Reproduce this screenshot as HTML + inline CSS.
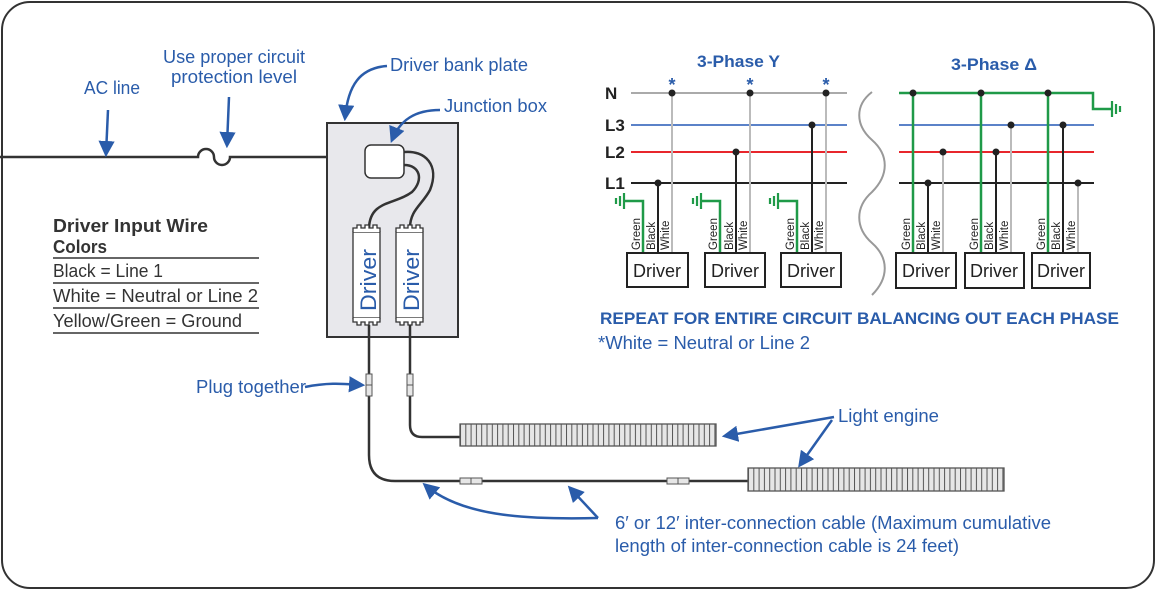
<!DOCTYPE html>
<html><head><meta charset="utf-8"><style>
html,body{margin:0;padding:0;background:#fff;}
svg{display:block;font-family:"Liberation Sans",sans-serif;}
.b{fill:#2a5caa;}
</style></head><body>
<svg width="1157" height="594" viewBox="0 0 1157 594" xmlns="http://www.w3.org/2000/svg">
<defs>
<marker id="ah" viewBox="0 0 10 10" refX="8" refY="5" markerWidth="6.5" markerHeight="6.5" orient="auto-start-reverse"><path d="M0,0 L10,5 L0,10 z" fill="#2a5caa"/></marker>
<pattern id="st" x="460" y="0" width="5.3" height="10" patternUnits="userSpaceOnUse"><rect width="5.3" height="10" fill="#e6e6e6"/><line x1="0.5" y1="0" x2="0.5" y2="10" stroke="#555" stroke-width="1"/></pattern>
<pattern id="st2" x="748" y="0" width="5.3" height="10" patternUnits="userSpaceOnUse"><rect width="5.3" height="10" fill="#e6e6e6"/><line x1="0.5" y1="0" x2="0.5" y2="10" stroke="#555" stroke-width="1"/></pattern>
</defs>
<rect x="2" y="2" width="1152" height="586" rx="28" fill="#fff" stroke="#333" stroke-width="2"/>

<path d="M0,157 H198 A8,8 0 0 1 214,157 A8,8 0 0 0 230,157 H365" fill="none" stroke="#333" stroke-width="2.5"/>
<rect x="327" y="123" width="131" height="214" fill="#e8e8ec" stroke="#333" stroke-width="2"/>
<rect x="365" y="145" width="39" height="33" rx="6" fill="#fff" stroke="#333" stroke-width="1.5"/>
<path d="M404,165 C420,165 424,180 412,192 C395,205 370,200 369,228" fill="none" stroke="#333" stroke-width="2.5"/>
<path d="M404,152 C425,150 440,165 430,190 C422,205 410,210 410,228" fill="none" stroke="#333" stroke-width="2.5"/>
<g fill="#fff" stroke="#333" stroke-width="1.3">
<rect x="353" y="232" width="27" height="86"/><rect x="396" y="232" width="27" height="86"/>
<path d="M353,232 v-4 h4 v-3 h4 v3 h4 v-3 h4 v3 h4 v-3 h4 v3 h3 v4" fill="#fff"/>
<path d="M396,232 v-4 h4 v-3 h4 v3 h4 v-3 h4 v3 h4 v-3 h4 v3 h3 v4" fill="#fff"/>
<path d="M353,318 v4 h4 v3 h4 v-3 h4 v3 h4 v-3 h4 v3 h4 v-3 h3 v-4" fill="#fff"/>
<path d="M396,318 v4 h4 v3 h4 v-3 h4 v3 h4 v-3 h4 v3 h4 v-3 h3 v-4" fill="#fff"/>
</g>
<text transform="translate(376,311) rotate(-90)" class="b" font-size="22" textLength="62" lengthAdjust="spacingAndGlyphs">Driver</text>
<text transform="translate(419,311) rotate(-90)" class="b" font-size="22" textLength="62" lengthAdjust="spacingAndGlyphs">Driver</text>

<path d="M369,325 V455 Q369,481 395,481 H748" fill="none" stroke="#333" stroke-width="2.5"/>
<path d="M410,325 V425 Q410,437 422,437 H460" fill="none" stroke="#333" stroke-width="2.5"/>
<g fill="#e6e6e6" stroke="#555" stroke-width="1">
<rect x="366" y="374" width="6" height="22"/><line x1="366" y1="385" x2="372" y2="385"/>
<rect x="407" y="374" width="6" height="22"/><line x1="407" y1="385" x2="413" y2="385"/>
<rect x="460" y="478" width="22" height="6"/><line x1="471" y1="478" x2="471" y2="484"/>
<rect x="667" y="478" width="22" height="6"/><line x1="678" y1="478" x2="678" y2="484"/>
</g>
<rect x="460" y="424" width="256" height="22" fill="url(#st)" stroke="#555" stroke-width="1.3"/>
<rect x="748" y="468" width="256" height="23" fill="url(#st2)" stroke="#555" stroke-width="1.3"/>

<g fill="none" stroke="#2a5caa" stroke-width="2.5" marker-end="url(#ah)">
<path d="M108,110 L106,154"/>
<path d="M229,97 L227,145"/>
<path d="M387,66 C360,68 348,85 345,118"/>
<path d="M440,110 C415,110 400,120 392,140"/>
<path d="M305,387 C330,382 345,384 362,385"/>
<path d="M834,417 L725,436"/>
<path d="M832,420 L800,465"/>
<path d="M598,518 C520,520 460,515 425,485"/>
<path d="M598,518 L570,488"/>
</g>

<g class="b" font-size="18" lengthAdjust="spacingAndGlyphs">
<text x="84" y="94" textLength="56" lengthAdjust="spacingAndGlyphs">AC line</text>
<text x="163" y="63" textLength="142" lengthAdjust="spacingAndGlyphs">Use proper circuit</text>
<text x="171" y="83" textLength="126" lengthAdjust="spacingAndGlyphs">protection level</text>
<text x="390" y="71" textLength="138" lengthAdjust="spacingAndGlyphs">Driver bank plate</text>
<text x="444" y="112" textLength="103" lengthAdjust="spacingAndGlyphs">Junction box</text>
<text x="196" y="393" textLength="110" lengthAdjust="spacingAndGlyphs">Plug together</text>
<text x="838" y="422" textLength="101" lengthAdjust="spacingAndGlyphs">Light engine</text>
<text x="615" y="529" textLength="436" lengthAdjust="spacingAndGlyphs">6′ or 12′ inter-connection cable (Maximum cumulative</text>
<text x="615" y="552" textLength="344" lengthAdjust="spacingAndGlyphs">length of inter-connection cable is 24 feet)</text>
</g>
<g fill="#333" font-size="18">
<text x="53" y="232" font-weight="bold" textLength="155" lengthAdjust="spacingAndGlyphs">Driver Input  Wire</text>
<text x="53" y="253" font-weight="bold" textLength="54" lengthAdjust="spacingAndGlyphs">Colors</text>
<text x="53" y="277" textLength="110" lengthAdjust="spacingAndGlyphs">Black = Line 1</text>
<text x="53" y="302" textLength="205" lengthAdjust="spacingAndGlyphs">White = Neutral or Line 2</text>
<text x="53" y="327" textLength="189" lengthAdjust="spacingAndGlyphs">Yellow/Green = Ground</text>
</g>
<g stroke="#333" stroke-width="1.5">
<line x1="53" y1="258" x2="259" y2="258"/><line x1="53" y1="283" x2="259" y2="283"/>
<line x1="53" y1="308" x2="259" y2="308"/><line x1="53" y1="333" x2="259" y2="333"/>
</g>

<text x="697" y="67" class="b" font-size="17" font-weight="bold" textLength="83" lengthAdjust="spacingAndGlyphs">3-Phase Y</text>
<g font-size="17" font-weight="bold" fill="#222">
<text x="605" y="99">N</text><text x="605" y="131">L3</text><text x="605" y="158">L2</text><text x="605" y="189">L1</text>
</g>
<g class="b" font-size="18" font-weight="bold" text-anchor="middle">
<text x="672" y="91">*</text><text x="750" y="91">*</text><text x="826" y="91">*</text>
</g>
<line x1="631" y1="93" x2="847" y2="93" stroke="#aaa" stroke-width="2"/>
<line x1="631" y1="125" x2="847" y2="125" stroke="#5b82c8" stroke-width="2"/>
<line x1="631" y1="152" x2="847" y2="152" stroke="#e8262c" stroke-width="2"/>
<line x1="631" y1="183" x2="847" y2="183" stroke="#222" stroke-width="2"/>
<g stroke-width="2" fill="none">
<path d="M672,93 V253 M750,93 V253 M826,93 V253" stroke="#bbb"/>
<path d="M658,183 V253 M736,152 V253 M812,125 V253" stroke="#222"/>
<path d="M643,253 V201 H624 M720,253 V201 H701 M797,253 V201 H778" stroke="#1f9a48" stroke-width="2.5"/>
<path d="M624,193 V209 M620,196 V206 M616,198 V204 M701,193 V209 M697,196 V206 M693,198 V204 M778,193 V209 M774,196 V206 M770,198 V204" stroke="#1f9a48" stroke-width="2.2"/>
</g>
<g fill="#222">
<circle cx="672" cy="93" r="3.5"/><circle cx="750" cy="93" r="3.5"/><circle cx="826" cy="93" r="3.5"/>
<circle cx="658" cy="183" r="3.5"/><circle cx="736" cy="152" r="3.5"/><circle cx="812" cy="125" r="3.5"/>
</g>

<path d="M872,92 C855,105 855,125 872,140 C889,155 889,175 872,192 C855,207 855,228 872,243 C889,258 889,278 872,295" fill="none" stroke="#999" stroke-width="2"/>

<text x="951" y="70" class="b" font-size="17" font-weight="bold" textLength="86" lengthAdjust="spacingAndGlyphs">3-Phase Δ</text>
<path d="M899,93 H1093 V109 H1111" stroke="#1f9a48" stroke-width="2.5" fill="none"/>
<path d="M1112,101 V117 M1116,104 V114 M1120,106 V112" stroke="#1f9a48" stroke-width="2.2"/>
<line x1="899" y1="125" x2="1094" y2="125" stroke="#5b82c8" stroke-width="2"/>
<line x1="899" y1="152" x2="1094" y2="152" stroke="#e8262c" stroke-width="2"/>
<line x1="899" y1="183" x2="1094" y2="183" stroke="#222" stroke-width="2"/>
<g stroke-width="2" fill="none">
<path d="M913,93 V253 M981,93 V253 M1048,93 V253" stroke="#1f9a48" stroke-width="2.5"/>
<path d="M928,183 V253 M996,152 V253 M1063,125 V253" stroke="#222"/>
<path d="M943,152 V253 M1011,125 V253 M1078,183 V253" stroke="#bbb"/>
</g>
<g fill="#222">
<circle cx="913" cy="93" r="3.5"/><circle cx="981" cy="93" r="3.5"/><circle cx="1048" cy="93" r="3.5"/>
<circle cx="928" cy="183" r="3.5"/><circle cx="996" cy="152" r="3.5"/><circle cx="1063" cy="125" r="3.5"/>
<circle cx="943" cy="152" r="3.5"/><circle cx="1011" cy="125" r="3.5"/><circle cx="1078" cy="183" r="3.5"/>
</g>

<g fill="#fff" stroke="#222" stroke-width="2">
<rect x="627" y="253" width="61" height="34"/><rect x="705" y="253" width="60" height="34"/><rect x="781" y="253" width="60" height="34"/>
<rect x="896" y="253" width="60" height="35"/><rect x="965" y="253" width="59" height="35"/><rect x="1032" y="253" width="58" height="35"/>
</g>
<g font-size="18" fill="#222" text-anchor="middle">
<text x="657" y="277">Driver</text><text x="735" y="277">Driver</text><text x="811" y="277">Driver</text>
<text x="926" y="277">Driver</text><text x="994" y="277">Driver</text><text x="1061" y="277">Driver</text>
</g>
<g font-size="11.5" fill="#222">
<text transform="translate(640,250) rotate(-90)">Green</text><text transform="translate(655,250) rotate(-90)">Black</text><text transform="translate(669,250) rotate(-90)">White</text>
<text transform="translate(717,250) rotate(-90)">Green</text><text transform="translate(733,250) rotate(-90)">Black</text><text transform="translate(747,250) rotate(-90)">White</text>
<text transform="translate(794,250) rotate(-90)">Green</text><text transform="translate(809,250) rotate(-90)">Black</text><text transform="translate(823,250) rotate(-90)">White</text>
<text transform="translate(910,250) rotate(-90)">Green</text><text transform="translate(925,250) rotate(-90)">Black</text><text transform="translate(940,250) rotate(-90)">White</text>
<text transform="translate(978,250) rotate(-90)">Green</text><text transform="translate(993,250) rotate(-90)">Black</text><text transform="translate(1008,250) rotate(-90)">White</text>
<text transform="translate(1045,250) rotate(-90)">Green</text><text transform="translate(1060,250) rotate(-90)">Black</text><text transform="translate(1075,250) rotate(-90)">White</text>
</g>

<text x="600" y="324" class="b" font-size="17" font-weight="bold" textLength="519" lengthAdjust="spacingAndGlyphs">REPEAT FOR ENTIRE CIRCUIT BALANCING OUT EACH PHASE</text>
<text x="598" y="349" class="b" font-size="18" textLength="212" lengthAdjust="spacingAndGlyphs">*White = Neutral or Line 2</text>
</svg>
</body></html>
